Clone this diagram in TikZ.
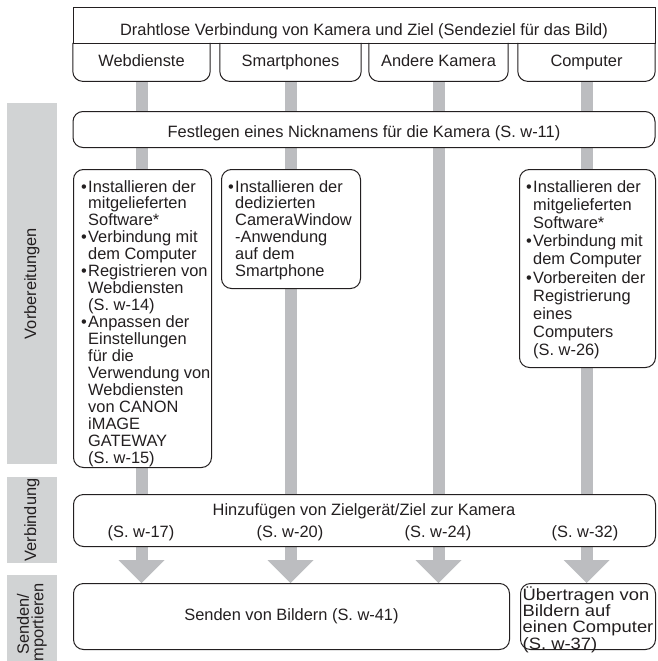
\documentclass[tikz,border=0pt]{standalone}
\usepackage{fontspec}
\setmainfont{Liberation Sans}
\usetikzlibrary{arrows.meta}
\pgfdeclarelayer{bg}
\pgfsetlayers{bg,main}
\definecolor{bargray}{HTML}{BCBDC0}
\definecolor{sidegray}{HTML}{D1D3D4}
\definecolor{ink}{HTML}{231F20}
\newcommand{\bl}{\llap{\textbullet\kern1.3pt}}
\newcommand{\fsz}[1]{\fontsize{16.4}{#1}\selectfont}
\newcommand{\lns}[2]{{\fsz{#1}\begin{tabular}[t]{@{}l@{}}#2\end{tabular}}}
\begin{document}
\begin{tikzpicture}[x=1pt,y=-1pt,
  box/.style={draw=ink, line width=1pt, rounded corners=10pt, fill=white, inner sep=0pt, anchor=north west},
  lbl/.style={inner sep=0pt, text=ink, font=\fsz{16.9}},
  side/.style={fill=sidegray, draw=none, inner sep=0pt, rotate=90, text=ink, align=center},
  tabline/.style={draw=ink, line width=1pt, rounded corners=10pt},
  bar/.style={draw=bargray, line width=12pt, -{Triangle[width=46pt,length=23pt,line width=0pt]}},
]
\useasboundingbox (0,0) rectangle (657,661);

% side labels
\node[side, minimum width=361pt, minimum height=50pt, font=\fsz{16.9}] (s1) at (32,283.5) {Vorbereitungen};
\node[side, minimum width=86pt, minimum height=50pt, font=\fsz{16.9}] (s2) at (32,520) {Verbindung};
\node[side, minimum width=98pt, minimum height=50pt, font=\fsz{14.5}] (s3) at (32,624) {Senden/\\importieren};

% title row and tabs
\node[lbl, draw=ink, line width=1pt, minimum width=582pt, text height=28pt, text depth=8pt, anchor=north] (title) at (364,7) {Drahtlose Verbindung von Kamera und Ziel (Sendeziel für das Bild)};
\node[lbl, minimum width=137pt, text height=23.5pt, text depth=14.5pt, anchor=north] (tw) at (141.5,43) {Webdienste};
\node[lbl, minimum width=141pt, text height=23.5pt, text depth=14.5pt, anchor=north] (ts) at (290.5,43) {Smartphones};
\node[lbl, minimum width=139pt, text height=23.5pt, text depth=14.5pt, anchor=north] (ta) at (438.5,43) {Andere Kamera};
\node[lbl, minimum width=137pt, text height=23.5pt, text depth=14.5pt, anchor=north] (tc) at (586.5,43) {Computer};
\foreach \t in {tw,ts,ta,tc}{
  \draw[tabline] (\t.north west) -- (\t.south west) -- (\t.south east) -- (\t.north east);
}

% nickname
\node[box, lbl, minimum width=582pt, text height=26pt, text depth=10pt, anchor=north] (nick) at (364,111) {Festlegen eines Nicknamens für die Kamera (S. w-11)};

% preparation boxes
\node[box, minimum width=138pt, minimum height=298pt] (web) at (73,169) {};
\node[lbl, anchor=base west] (webtxt) at (88,192) {\lns{16.9}{\bl Installieren der\\mitgelieferten\\Software*\\\bl Verbindung mit\\dem Computer\\\bl Registrieren von\\Webdiensten\\(S. w-14)\\\bl Anpassen der\\Einstellungen\\für die\\Verwendung von\\Webdiensten\\von CANON\\iMAGE\\GATEWAY\\(S. w-15)}};

\node[box, minimum width=139pt, minimum height=119pt] (smart) at (221,169) {};
\node[lbl, anchor=base west] (smarttxt) at (235,192) {\lns{16.6}{\bl Installieren der\\dedizierten\\CameraWindow\\-Anwendung\\auf dem\\Smartphone}};

\node[box, minimum width=136pt, minimum height=198pt] (comp) at (519,169) {};
\node[lbl, anchor=base west] (comptxt) at (533,192) {\lns{18.2}{\bl Installieren der\\mitgelieferten\\Software*\\\bl Verbindung mit\\dem Computer\\\bl Vorbereiten der\\Registrierung\\eines\\Computers\\(S. w-26)}};

% connection
\node[box, minimum width=582pt, minimum height=52pt] (add) at (73,494) {};
\node[lbl, anchor=base] (addtxt) at (364,515) {Hinzufügen von Zielgerät/Ziel zur Kamera};
\node[lbl, anchor=base] (r1) at (141,537) {(S. w-17)};
\node[lbl, anchor=base] (r2) at (290,537) {(S. w-20)};
\node[lbl, anchor=base] (r3) at (438,537) {(S. w-24)};
\node[lbl, anchor=base] (r4) at (585,537) {(S. w-32)};

% sending
\node[box, lbl, minimum width=436pt, minimum height=66pt] (send) at (73,583) {Senden von Bildern (S. w-41)};
\node[box, minimum width=135pt, minimum height=66pt] (ueb) at (520,583) {};
\node[lbl, anchor=base west] (uebtxt) at (522.5,600.5) {\scalebox{1.12}[1]{\lns{14.3}{Übertragen von\\Bildern auf\\einen Computer\\(S. w-37)}}};

% bars
\begin{pgfonlayer}{bg}
\draw[bar] (tw.south) -- (tw.south |- send.north);
\draw[bar] (ts.south) -- (ts.south |- send.north);
\draw[bar] (ta.south) -- (ta.south |- send.north);
\draw[bar] (tc.south) -- (tc.south |- ueb.north);
\end{pgfonlayer}
\end{tikzpicture}
\end{document}
